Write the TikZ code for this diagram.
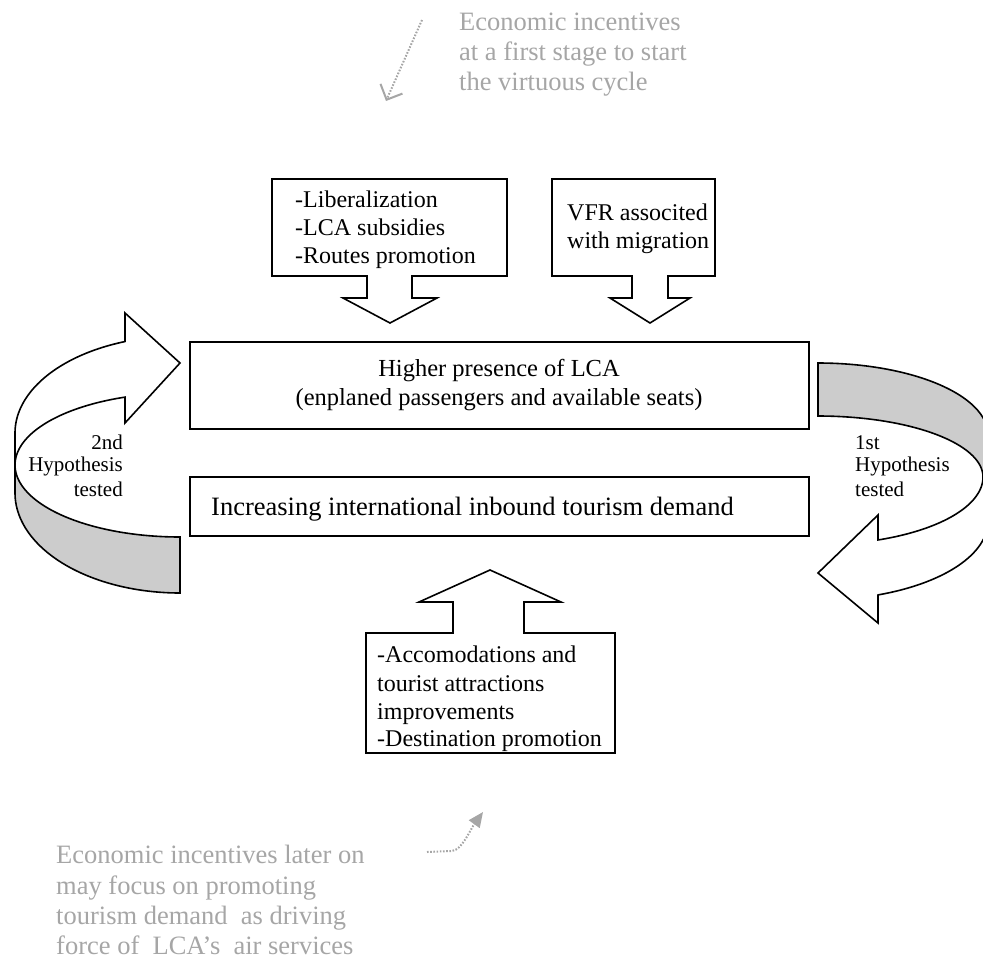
\documentclass[tikz,border=0pt]{standalone}
\usepackage{fontspec}
\setmainfont{Liberation Serif}
\usetikzlibrary{arrows.meta}
\definecolor{txtgray}{RGB}{166,166,166}
\definecolor{bandgray}{RGB}{204,204,204}
\begin{document}
\begin{tikzpicture}[x=1pt,y=-1pt,
  outl/.style={draw=black, line width=1.6pt, line join=miter},
  cbox/.style={anchor=base west, inner sep=0pt, font=\fontsize{24}{28}\selectfont},
  ctxt/.style={anchor=base, inner sep=0pt, font=\fontsize{24.5}{29}\selectfont},
  hypl/.style={inner sep=0pt, font=\fontsize{21}{24}\selectfont},
  gtxt/.style={anchor=base west, inner sep=0pt, text=txtgray, font=\fontsize{26.5}{30}\selectfont},
  dotline/.style={draw=txtgray, line width=2pt, dash pattern=on 1.6pt off 1.6pt}]
\useasboundingbox (0,0) rectangle (983,959);
\clip (0,0) rectangle (983,959);

% ---------- left curved arrow (2nd hypothesis) ----------
\path[outl, fill=bandgray] (15,465)
  -- plot[domain=180:270, samples=50, variable=\t] ({180+165*cos(\t)},{465-72*sin(\t)})
  -- (180,593)
  -- plot[domain=270:180, samples=50, variable=\t] ({180+165*cos(\t)},{493-100*sin(\t)})
  -- cycle;
\path[outl, fill=white] (180,363) -- (125,313) -- (125,342)
  -- plot[domain=109.47:180, samples=50, variable=\t] ({180+165*cos(\t)},{433-97*sin(\t)})
  -- (15,465)
  -- plot[domain=180:109.47, samples=50, variable=\t] ({180+165*cos(\t)},{465-72*sin(\t)})
  -- (125,423) -- cycle;

% ---------- right curved arrow (1st hypothesis) ----------
\path[outl, fill=bandgray] (818,416) -- (818,363)
  -- plot[domain=90:0, samples=50, variable=\t] ({818+170*cos(\t)},{435-72*sin(\t)})
  -- (988,477)
  -- plot[domain=0:90, samples=50, variable=\t] ({818+165*cos(\t)},{477-61*sin(\t)})
  -- cycle;
\path[outl, fill=white] (988,477)
  -- plot[domain=0:-68.68, samples=50, variable=\t] ({818+165*cos(\t)},{477-67.6*sin(\t)})
  -- (878,515) -- (818,573) -- (878,623) -- (878,595)
  -- plot[domain=-69.3:0, samples=50, variable=\t] ({818+170*cos(\t)},{521-79*sin(\t)})
  -- cycle;

% ---------- main boxes ----------
\node[outl, minimum width=619pt, minimum height=87pt, inner sep=0pt] (lca) at (499.5,385.5) {};
\node[outl, minimum width=619pt, minimum height=59pt, inner sep=0pt] (dem) at (499.5,506.5) {};
\node[ctxt] (lca1) at (499,376) {Higher presence of LCA};
\node[ctxt] (lca2) at (499,405) {(enplaned passengers and available seats)};
\node[anchor=base west, inner sep=0pt, font=\fontsize{26.5}{30}\selectfont] (dem1) at (211,515) {Increasing international inbound tourism demand};

% ---------- top callouts ----------
\path[outl, fill=white] (272,179) -- (507,179) -- (507,276) -- (412,276) -- (412,298)
  -- (437,298) -- (390,323) -- (343,298) -- (367,298) -- (367,276) -- (272,276) -- cycle;
\node[cbox] (c1a) at (295,207) {-Liberalization};
\node[cbox] (c1b) at (295,235) {-LCA subsidies};
\node[cbox] (c1c) at (295,263) {-Routes promotion};

\path[outl, fill=white] (552,179) -- (715,179) -- (715,276) -- (668,276) -- (668,298)
  -- (690,298) -- (650,323) -- (610,298) -- (632,298) -- (632,276) -- (552,276) -- cycle;
\node[cbox] (c2a) at (567,220) {VFR associted};
\node[cbox] (c2b) at (567,248) {with migration};

% ---------- bottom callout ----------
\path[outl, fill=white] (366,633) -- (453,633) -- (453,602) -- (419,602) -- (490,570)
  -- (561,602) -- (524,602) -- (524,633) -- (615,633) -- (615,753) -- (366,753) -- cycle;
\node[cbox] (c3a) at (377,662) {-Accomodations and};
\node[cbox] (c3b) at (377,691) {tourist attractions};
\node[cbox] (c3c) at (377,719) {improvements};
\node[cbox] (c3d) at (377,746) {-Destination promotion};

% ---------- hypothesis labels ----------
\node[hypl, anchor=base east] (h2a) at (123,449) {2nd};
\node[hypl, anchor=base east] (h2b) at (123,471) {Hypothesis};
\node[hypl, anchor=base east] (h2c) at (123,496) {tested};
\node[hypl, anchor=base west] (h1a) at (855,449) {1st};
\node[hypl, anchor=base west] (h1b) at (855,471) {Hypothesis};
\node[hypl, anchor=base west] (h1c) at (855,496) {tested};

% ---------- grey notes ----------
\node[gtxt] (g1a) at (459,30) {Economic incentives};
\node[gtxt] (g1b) at (459,60) {at a first stage to start};
\node[gtxt] (g1c) at (459,90) {the virtuous cycle};
\coordinate (ta) at (422,20);
\coordinate (tb) at (386,101);
\draw[dotline, -{Straight Barb[length=12pt,width=24pt,line width=2pt]}] (ta) -- (tb);

\node[gtxt] (g2a) at (56,863) {Economic incentives later on};
\node[gtxt] (g2b) at (56,894) {may focus on promoting};
\node[gtxt] (g2c) at (56,924) {tourism demand~ as driving};
\node[gtxt] (g2d) at (56,954) {force of~ LCA’s~ air services};
\coordinate (ba) at (427,852);
\coordinate (bb) at (452,851);
\coordinate (bc) at (483,812);
\draw[dotline, -{Triangle[length=15pt,width=13pt,fill=txtgray]}] (ba) -- (bb) .. controls (462,850) and (470,830) .. (bc);
\end{tikzpicture}
\end{document}
